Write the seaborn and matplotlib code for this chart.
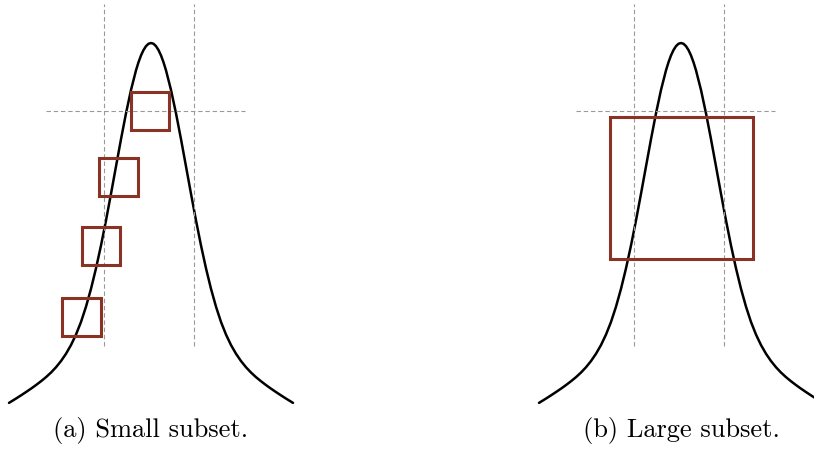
import matplotlib
matplotlib.use("Agg")
import matplotlib.pyplot as plt
import seaborn as sns
import pandas as pd
from matplotlib.patches import Rectangle

# ---- data ----
curve_x = [-3.55, -3.5, -3.375, -3.25, -3.125, -3.0, -2.875, -2.75, -2.625, -2.5, -2.375,
           -2.25, -2.125, -2.0, -1.875, -1.75, -1.625, -1.5, -1.375, -1.25, -1.125, -1.0,
           -0.875, -0.75, -0.625, -0.5, -0.375, -0.3125, -0.25, -0.1875, -0.125, -0.0625, 0.0,
           0.0625, 0.125, 0.1875, 0.25, 0.3125, 0.375, 0.5, 0.625, 0.75, 0.875, 1.0, 1.125,
           1.25, 1.375, 1.5, 1.625, 1.75, 1.875, 2.0, 2.125, 2.25, 2.375, 2.5, 2.625, 2.75,
           2.875, 3.0, 3.125, 3.25, 3.375, 3.5, 3.55]
curve_y = [0.0772, 0.0804, 0.0883, 0.0965, 0.1050, 0.1137, 0.1229, 0.1327, 0.1432, 0.1550, 0.1686,
           0.1845, 0.2032, 0.2255, 0.2524, 0.2847, 0.3239, 0.3697, 0.4222, 0.4809, 0.5451, 0.6134,
           0.6836, 0.7534, 0.8197, 0.8796, 0.9299, 0.9507, 0.9681, 0.9819, 0.9919, 0.9980, 1.0,
           0.9980, 0.9919, 0.9819, 0.9681, 0.9507, 0.9299, 0.8796, 0.8197, 0.7534, 0.6836, 0.6134, 0.5451,
           0.4809, 0.4222, 0.3697, 0.3239, 0.2847, 0.2524, 0.2255, 0.2032, 0.1845, 0.1686, 0.1550, 0.1432, 0.1327,
           0.1229, 0.1137, 0.1050, 0.0965, 0.0883, 0.0804, 0.0772]

vline_x = [-1.17, 1.08]
vline_y = [0.223, 1.10]
hline_y = 0.825
hline_x = [-2.625, 2.35]

# boxes: (x0, x1, y0, y1)
small_x0 = [-0.508, -1.293, -1.725, -2.218]
small_x1 = [0.458, -0.333, -0.768, -1.258]
small_y0 = [0.778, 0.6085, 0.4308, 0.2487]
small_y1 = [0.875, 0.7059, 0.5282, 0.3469]

large_x0 = [-1.775]
large_x1 = [1.7925]
large_y0 = [0.4462]
large_y1 = [0.8095]

captions = ["(a) Small subset.", "(b) Large subset."]

# ---- drawing ----
sns.set_style("white")
W, H = 814, 452
fig = plt.figure(figsize=(W / 100, H / 100), dpi=100)

BOX_COLOR = "#8a3324"
DASH_COLOR = "#999999"

df = pd.DataFrame({"x": curve_x, "y": curve_y})


def panel(left_px, width_px, peak_px, bx0, bx1, by0, by1, caption):
    ax = fig.add_axes([left_px / W, 0, width_px / W, 1])
    sns.lineplot(data=df, x="x", y="y", ax=ax, color="black", linewidth=1.8,
                 sort=False, estimator=None)
    for xv in vline_x:
        ax.plot([xv, xv], vline_y, color=DASH_COLOR, linewidth=0.8,
                linestyle=(0, (4, 2.5)))
    ax.plot(hline_x, [hline_y, hline_y], color=DASH_COLOR, linewidth=0.8,
            linestyle=(0, (4, 2.5)))
    for a, b, c, d in zip(bx0, bx1, by0, by1):
        ax.add_patch(Rectangle((a, c), b - a, d - c, fill=False,
                               edgecolor=BOX_COLOR, linewidth=2.2, zorder=3))
    ax.set_xlim((0 - (peak_px - left_px)) / 40, (width_px - (peak_px - left_px)) / 40)
    ax.set_ylim(-18 / 390, 434 / 390)
    ax.axis("off")
    fig.text(peak_px / W, 1 - 431 / H, caption, ha="center", va="center",
             fontsize=19, family="cmr10", color="black")


panel(0, 300, 151, small_x0, small_x1, small_y0, small_y1, captions[0])
panel(530, 284, 681, large_x0, large_x1, large_y0, large_y1, captions[1])

fig.savefig("out.png", dpi=100)
